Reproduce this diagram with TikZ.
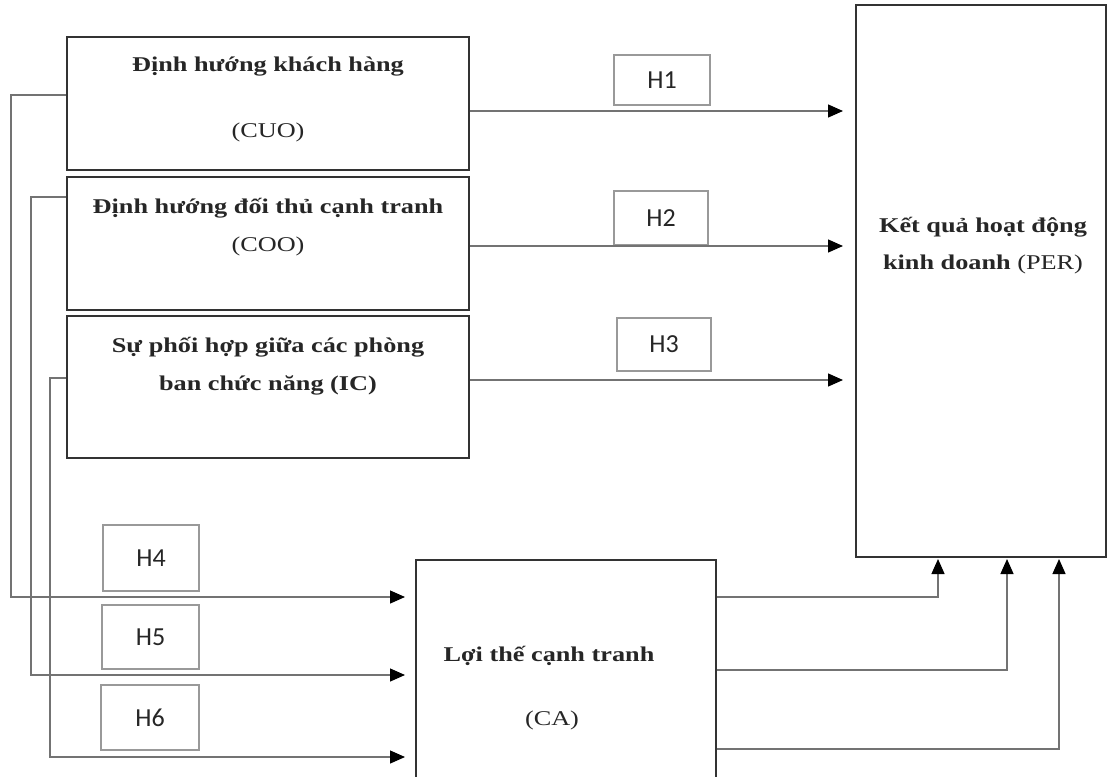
\documentclass[tikz,border=0pt]{standalone}
\usepackage{fontspec}
\setmainfont{Liberation Serif}[FakeStretch=1.25]
\newfontfamily\hfont{Carlito}
\usetikzlibrary{arrows.meta}
\tikzset{
  box/.style={draw=black!80, line width=2pt, fill=white, inner sep=0pt},
  hbox/.style={draw=black!40, line width=1.3pt, inner sep=0pt, font=\hfont\fontsize{26}{30}\selectfont, text=black!85},
  ttl/.style={font=\fontsize{21}{25}\selectfont\bfseries, text=black!85, inner sep=0pt},
  sub/.style={font=\fontsize{21}{25}\selectfont, text=black!85, inner sep=0pt},
  conn/.style={draw=black!55, line width=1.3pt},
  arr/.style={conn, -{Triangle[length=15pt,width=13pt,color=black]}},
}
\begin{document}
\begin{tikzpicture}[x=1pt,y=-1pt]
\useasboundingbox (0,0) rectangle (1107,776);
% main boxes
\node[box, minimum width=402pt, minimum height=133pt] (cuo) at (268,103.5) {};
\node[box, minimum width=402pt, minimum height=133pt] (coo) at (268,243.5) {};
\node[box, minimum width=402pt, minimum height=142pt] (ic) at (268,387) {};
\node[box, minimum width=250pt, minimum height=552pt] (per) at (981,281) {};
\node[box, minimum width=300pt, minimum height=220pt] (ca) at (566,670) {};
% texts
\node[ttl] (cuot) at (268,67) {Định hướng khách hàng};
\node[sub] (cuos) at (268,132) {(CUO)};
\node[ttl] (coot) at (268,208) {Định hướng đối thủ cạnh tranh};
\node[sub] (coos) at (268,246) {(COO)};
\node[ttl] (ict1) at (268,347) {Sự phối hợp giữa các phòng};
\node[ttl] (ict2) at (268,385) {ban chức năng (IC)};
\node[ttl] (pert1) at (983,227) {Kết quả hoạt động};
\node[ttl] (pert2) at (983,264) {kinh doanh \textmd{(PER)}};
\node[ttl] (cat) at (549,656) {Lợi thế cạnh tranh};
\node[sub] (cas) at (552,720) {(CA)};
% H boxes
\node[hbox, minimum width=96pt, minimum height=50pt] (h1) at (662,80) {H1};
\node[hbox, minimum width=94pt, minimum height=54pt] (h2) at (661,218) {H2};
\node[hbox, minimum width=94pt, minimum height=53pt] (h3) at (664,344.5) {H3};
\node[hbox, minimum width=96pt, minimum height=66pt] (h4) at (151,558) {H4};
\node[hbox, minimum width=97pt, minimum height=64pt] (h5) at (150.5,637) {H5};
\node[hbox, minimum width=98pt, minimum height=65pt] (h6) at (150,717.5) {H6};
% arrows to PER
\draw[arr, shorten >=12pt] (cuo.east |- 0,111) -- (per.west |- 0,111);
\draw[arr, shorten >=12pt] (coo.east |- 0,246) -- (per.west |- 0,246);
\draw[arr, shorten >=12pt] (ic.east |- 0,380) -- (per.west |- 0,380);
% left connectors to CA
\draw[arr, shorten >=10pt] (cuo.west |- 0,95) -- (11,95) -- (11,597) -- (ca.west |- 0,597);
\draw[arr, shorten >=10pt] (coo.west |- 0,197) -- (31,197) -- (31,675) -- (ca.west |- 0,675);
\draw[arr, shorten >=10pt] (ic.west |- 0,378) -- (50,378) -- (50,757) -- (ca.west |- 0,757);
% CA to PER
\draw[arr, shorten >=1pt] (ca.east |- 0,597) -- (938,597) -- (per.south -| 938,0);
\draw[arr, shorten >=1pt] (ca.east |- 0,670) -- (1007,670) -- (per.south -| 1007,0);
\draw[arr, shorten >=1pt] (ca.east |- 0,749) -- (1059,749) -- (per.south -| 1059,0);
\end{tikzpicture}
\end{document}
